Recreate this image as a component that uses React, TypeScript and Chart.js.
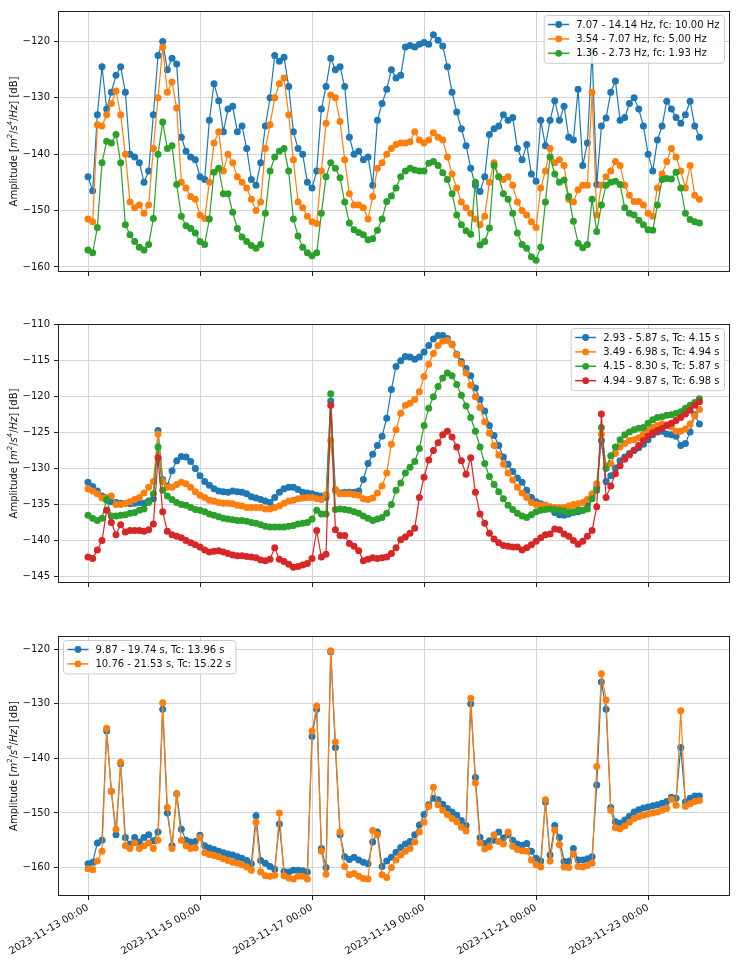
import React, { useEffect, useRef } from 'react';
import { Chart, registerables } from 'chart.js';

Chart.register(...registerables);

const FONT = '"DejaVu Sans", "Liberation Sans", sans-serif';

// one sample every 2 hours starting 2023-11-13 00:00 (x in hours since that moment)
const STEP_H = 2;
const X_MIN = -12.86;
const X_MAX = 275.1;
const X_TICK_HOURS = [0, 48, 96, 144, 192, 240];
const X_TICK_LABELS = [
  '2023-11-13 00:00',
  '2023-11-15 00:00',
  '2023-11-17 00:00',
  '2023-11-19 00:00',
  '2023-11-21 00:00',
  '2023-11-23 00:00',
];

const C_BLUE = '#1f77b4';
const C_ORANGE = '#ff7f0e';
const C_GREEN = '#2ca02c';
const C_RED = '#d62728';

// ---------- panel 1 (frequency bands) ----------
const TOP_LABELS = [
  '7.07 - 14.14 Hz, fc: 10.00 Hz',
  '3.54 - 7.07 Hz, fc: 5.00 Hz',
  '1.36 - 2.73 Hz, fc: 1.93 Hz',
];
const TOP_BLUE = [
  -144, -146.5, -133, -124.5, -132, -129, -126, -124.5, -129, -140,
  -140.5, -141.5, -145, -143, -133, -122.5, -120, -125, -123, -124,
  -137, -139.5, -140.5, -141, -144, -144.5, -134, -127.5, -130.5, -136,
  -132, -131.5, -136, -135, -139, -144.5, -145.5, -141.5, -135, -130,
  -122.5, -123.5, -122.8, -128, -136, -139, -140, -145, -146, -143,
  -132, -128, -123, -125, -124.5, -128, -137, -140, -139.5, -141,
  -140.5, -145.5, -134, -131, -128.5, -125, -126.5, -126, -121, -120.7,
  -121, -120.5, -120.2, -120.5, -118.8, -119.8, -120.8, -124.5, -129, -132.5,
  -135.5, -138.5, -142.5, -145.5, -146.6, -144, -136.5, -135.5, -135, -133,
  -134, -133.5, -139, -141, -138.3, -143.5, -144.8, -134, -138.5, -134,
  -130.5, -134, -131.5, -137, -137.5, -128.5, -142, -138, -121.7, -145.4,
  -135, -133.6, -129, -127, -134, -133.5, -131, -130, -132, -135,
  -140, -143, -137.5, -135, -130.6, -132, -133.5, -134.5, -133, -130.6,
  -135, -137,
];
const TOP_ORANGE = [
  -151.5, -152, -134.8, -135, -133, -131, -128.8, -133, -140, -148.5,
  -149.5, -149, -150.5, -149, -139, -130, -121, -129, -127.2, -131.8,
  -145, -146, -147.5, -148, -150.8, -151.4, -145, -138, -136, -143,
  -140, -141.5, -144, -145, -146, -148, -150, -148.5, -139, -134.8,
  -130, -127.5, -126.5, -133, -141, -148.5, -149.5, -151, -152, -152.3,
  -143, -134.5, -129.5, -130, -134.2, -141, -147, -149, -149, -149.5,
  -151.5, -147.5, -142.5, -141.5, -140, -139, -138.3, -138, -138, -137.8,
  -136, -137.5, -138, -137.5, -136.2, -137, -137.5, -140.5, -143.5, -146,
  -148.5, -149.5, -150.5, -151.5, -152.5, -151, -145, -141.5, -144, -144.5,
  -144, -145.5, -148.5, -150, -150.8, -152, -153, -146, -143, -139,
  -141.5, -141, -142, -148, -148.5, -146.3, -145.5, -145.5, -129, -150.8,
  -145.5, -144, -143, -141.3, -142, -145.5, -147.3, -148.4, -148.4, -149,
  -150.5, -151, -146, -143.5, -141.3, -139, -140.5, -143, -146, -142,
  -147.3, -148,
];
const TOP_GREEN = [
  -157, -157.5, -153, -141.5, -137.7, -138, -136.5, -141.5, -152.5, -154.3,
  -155.5, -156.5, -157, -156, -151.4, -140, -134.3, -139, -138.5, -145.4,
  -151, -152.7, -153.2, -154, -155.5, -156, -151.5, -143.2, -142.5, -147,
  -147, -150.3, -153.2, -154.7, -155.5, -156.2, -156.7, -156, -150.5, -143,
  -140.5, -139.5, -139, -143, -151.5, -154.5, -156.5, -157.5, -158, -157.5,
  -150.5, -144, -141.5, -142.5, -144.2, -148.5, -152.2, -153.4, -153.9, -154.3,
  -155.2, -155, -153.5, -151.5, -148.4, -147.4, -146, -144, -143, -142.5,
  -142.8, -143, -143, -141.6, -141.3, -142, -143.3, -144.5, -147, -150.8,
  -152.5, -153.6, -154.2, -145, -156.1, -155.5, -153.1, -142, -144, -147,
  -148, -150.5, -154, -156, -156.7, -158.2, -158.8, -156.5, -148.5, -140.5,
  -143.5, -145, -144.6, -147.5, -151.9, -155.8, -156.6, -156, -148, -153.7,
  -149, -145.5, -145, -144.8, -145.4, -149.5, -150.5, -150.8, -151.7, -152.5,
  -153.4, -153.5, -149, -144.5, -144.3, -144.4, -143.2, -146, -150.5, -151.6,
  -152, -152.2,
];

// ---------- panel 2 (period bands) ----------
const MID_LABELS = [
  '2.93 - 5.87 s, Tc: 4.15 s',
  '3.49 - 6.98 s, Tc: 4.94 s',
  '4.15 - 8.30 s, Tc: 5.87 s',
  '4.94 - 9.87 s, Tc: 6.98 s',
];
const MID_BLUE = [
  -131.9, -132.5, -133.1, -133.8, -134.4, -134.6, -134.7, -134.8, -134.8, -134.9,
  -134.8, -134.7, -134.8, -134.5, -134.2, -124.7, -131.5, -132.4, -130.3, -128.9,
  -128.3, -128.4, -129, -130, -131, -131.8, -132.3, -132.8, -133.1, -133.2,
  -133.3, -133.1, -133.2, -133.3, -133.5, -133.9, -134.1, -134.3, -134.5, -134.7,
  -134, -133.3, -132.8, -132.6, -132.6, -132.9, -133.3, -133.4, -133.5, -133.7,
  -133.8, -134, -120.6, -133, -133.4, -133.3, -133.3, -133.3, -133.1, -131.5,
  -129.3, -128, -126.8, -125.5, -123, -119, -115.8, -115, -114.4, -114.5,
  -114.8, -114.5, -113.8, -112.9, -112, -111.5, -111.5, -111.9, -112.7, -114.1,
  -115.1, -116.1, -117.1, -118.8, -120.4, -122, -124, -125.4, -126.8, -128.4,
  -129.4, -130.4, -131.3, -131.9, -133, -134, -134.6, -134.9, -135.1, -135.5,
  -136.1, -136.4, -136.5, -136.3, -136.1, -136, -135.8, -135, -133.8, -132.6,
  -126.1, -131.8, -131, -129.9, -128.9, -128.4, -127.9, -127.5, -127.1, -126.6,
  -126, -125.3, -124.9, -124.8, -125.2, -125.3, -125.5, -126.8, -126.5, -124.9,
  -122.5, -123.8,
];
const MID_ORANGE = [
  -132.8, -133.1, -133.5, -134.1, -134, -133.8, -135, -135, -134.8, -134.6,
  -134.3, -134, -133.4, -132.6, -131.8, -125.2, -131.8, -132.6, -132.6, -132.2,
  -131.9, -132.1, -132.6, -133.2, -133.7, -134, -134.4, -134.5, -134.7, -134.8,
  -134.8, -134.9, -135.1, -135.2, -135.4, -135.4, -135.4, -135.4, -135.6, -135.6,
  -135.4, -135.2, -134.8, -134.5, -134.4, -134.2, -134.1, -134, -134, -134.2,
  -134.3, -133.6, -126.1, -132.9, -133.5, -133.5, -133.5, -133.6, -133.7, -134.2,
  -134.3, -134.1, -133.4, -132.4, -130.6, -126.6, -124.6, -122.3, -121.2, -120.9,
  -120.4, -119.3, -117.2, -115.5, -114, -112.9, -112.3, -112.2, -112.8, -114.2,
  -115.4, -116.7, -118.4, -120, -121.5, -123.5, -125.1, -126.8, -128.1, -129.4,
  -130.6, -131.6, -132.6, -133.4, -134, -134.7, -135, -135.1, -135.1, -135.3,
  -135.4, -135.4, -135.4, -135.2, -135, -134.9, -134.7, -134.3, -133.5, -132.1,
  -125.2, -129.6, -129.3, -127.9, -127, -126.5, -126.1, -126, -125.7, -125.2,
  -124.7, -124.3, -124, -123.8, -123.9, -124.2, -124.8, -124.8, -124.5, -123.8,
  -122.7, -121.8,
];
const MID_GREEN = [
  -136.5, -136.9, -137.2, -136.9, -134.3, -136.6, -136.6, -136.5, -136.4, -136.2,
  -136.1, -135.8, -135.6, -134.7, -133.5, -127, -133, -133.8, -134.3, -134.7,
  -135, -135.1, -135.4, -135.7, -135.8, -136, -136.3, -136.5, -136.7, -136.9,
  -137, -137.1, -137.2, -137.2, -137.3, -137.5, -137.6, -137.8, -138, -138.1,
  -138.1, -138.1, -138.1, -138, -137.9, -137.7, -137.6, -137.5, -137, -135.8,
  -136.3, -136.3, -119.6, -135.7, -135.6, -135.7, -135.8, -136, -136.2, -136.6,
  -136.9, -137.2, -137, -136.8, -136.2, -135, -133, -132, -130.6, -129.8,
  -129, -127.2, -124, -121.6, -120, -118.6, -117.4, -116.7, -117.1, -118.3,
  -119.8, -121.3, -122.9, -124.8, -127, -129.3, -131.1, -132.2, -133.2, -134.2,
  -135.1, -135.7, -136.2, -136.6, -136.8, -136.4, -136, -135.8, -135.7, -135.6,
  -135.7, -135.8, -135.9, -136.1, -136, -135.8, -135.8, -135.6, -134.2, -133,
  -124.3, -130, -128.2, -127, -126, -125.3, -124.9, -124.6, -124.4, -124.3,
  -123.7, -123.2, -122.9, -122.8, -122.6, -122.5, -122.3, -122.1, -121.6, -121.2,
  -120.8, -120.3,
];
const MID_RED = [
  -142.3, -142.5, -141.3, -140, -135.8, -137.5, -139.2, -137.8, -138.8, -138.6,
  -138.6, -138.6, -138.7, -138.5, -137.7, -128.5, -136, -138.7, -139.2, -139.4,
  -139.6, -140, -140.3, -140.6, -140.9, -141.3, -141.6, -141.5, -141.4, -141.6,
  -141.8, -142, -142.1, -142.1, -142.2, -142.3, -142.4, -142.7, -142.8, -142.6,
  -141, -142.6, -142.9, -143.3, -143.7, -143.6, -143.4, -143.2, -142.5, -138.6,
  -142.3, -141.9, -121.2, -138.5, -139.3, -139.3, -140.4, -140.8, -141.4, -142.8,
  -142.6, -142.4, -142.5, -142.4, -142.3, -141.8, -141, -139.9, -139.5, -139,
  -138.3, -134, -131.2, -128.8, -127.5, -126.4, -125.3, -124.8, -125.6, -127,
  -128.9, -130.8, -128.5, -133.3, -136.3, -137.6, -139, -139.8, -140.3, -140.7,
  -140.8, -140.9, -140.9, -141.3, -141, -140.6, -140.1, -139.6, -139.2, -139.1,
  -138.4, -138.5, -139.1, -139.4, -140, -140.5, -140.1, -139.4, -138.6, -135.3,
  -122.4, -134, -132.4, -130.7, -129.6, -128.7, -128.1, -127.4, -126.8, -126.1,
  -125.5, -125, -124.7, -124.4, -124, -123.7, -123.3, -122.9, -122.4, -121.9,
  -121.2, -120.7,
];

// ---------- panel 3 (long periods) ----------
const BOT_LABELS = [
  '9.87 - 19.74 s, Tc: 13.96 s',
  '10.76 - 21.53 s, Tc: 15.22 s',
];
const BOT_BLUE = [
  -159.3, -159, -155.5, -155, -135, -146, -154, -141, -154.5, -155.7,
  -154.5, -155.3, -154.5, -154, -155.1, -153.5, -131, -150, -156, -146.5,
  -153, -155, -155.3, -155.2, -154.1, -156, -156.4, -156.7, -157, -157.3,
  -157.5, -157.7, -158, -158.3, -158.7, -159.3, -150.5, -158.7, -159.2, -159.8,
  -160.3, -152, -160.7, -160.8, -160.5, -160.5, -160.6, -160.8, -136, -131,
  -156.5, -160, -120.5, -138, -154, -158, -158.5, -158.1, -158.6, -159,
  -159.3, -155.3, -153.5, -159.8, -158.8, -158.1, -157.2, -156.3, -155.7, -155.2,
  -154, -152.2, -150.3, -148.5, -147.3, -147.6, -148.4, -149.2, -149.8, -150.4,
  -151.4, -152.3, -130, -143.5, -154.5, -155.6, -155.1, -155, -153.5, -154.6,
  -154, -155, -155.7, -155.9, -155.6, -157, -158.3, -158.8, -148, -157.7,
  -152.3, -154.5, -158.9, -158.9, -156.5, -158.6, -158.6, -158.4, -158, -144.9,
  -126, -131, -149, -151.6, -151.9, -151.3, -150.6, -149.8, -149.4, -149.1,
  -148.9, -148.7, -148.5, -148.2, -147.9, -147.1, -147.3, -138, -148, -147.3,
  -146.9, -146.9,
];
const BOT_ORANGE = [
  -160.2, -160.4, -158.8, -157, -134.5, -146, -153, -140.7, -156, -156.5,
  -155.5, -156.5, -156, -155.5, -156.5, -155, -129.8, -149, -156.5, -146.5,
  -155, -156, -156.5, -156.4, -154.5, -157.3, -157.6, -157.8, -158, -158.4,
  -158.7, -159, -159.2, -159.5, -159.9, -160.5, -151.7, -160.8, -161.5, -161.6,
  -161.4, -150, -161.5, -161.9, -162.1, -161.6, -161.6, -162.1, -135, -130.4,
  -157, -161.2, -120.3, -137, -153.5, -159.8, -161.3, -161.1, -161.6, -162,
  -162.1, -153.2, -154, -161.3, -161.8, -160, -158.6, -157.7, -157, -156.5,
  -155.3, -153.5, -151.7, -148.8, -145.3, -148.5, -149.5, -150.3, -151, -151.6,
  -152.6, -153.3, -129, -144.5, -155.5, -156.6, -156.2, -154, -155.2, -155.7,
  -153.5, -156.1, -156.7, -156.9, -157, -158.6, -159.5, -159.9, -147.6, -158.8,
  -153.1, -155.8, -159.9, -160, -157.5, -159.8, -159.9, -159.6, -159.2, -141.5,
  -124.5, -129.3, -149.5, -152.7, -152.9, -152.4, -151.7, -151, -150.7, -150.4,
  -150.2, -150, -149.8, -149.5, -149.2, -147.5, -148.6, -131.3, -148.8, -148.3,
  -147.9, -147.7,
];

const TOP_Y_TICKS = [-160, -150, -140, -130, -120];
const MID_Y_TICKS = [-145, -140, -135, -130, -125, -120, -115, -110];
const BOT_Y_TICKS = [-160, -150, -140, -130, -120];

const Y_TITLE_PARTS = [
  { t: 'Amplitude [', style: 'n' },
  { t: 'm', style: 'i' },
  { t: '2', style: 's' },
  { t: '/', style: 'n' },
  { t: 's', style: 'i' },
  { t: '4', style: 's' },
  { t: '/', style: 'n' },
  { t: 'Hz', style: 'i' },
  { t: '] [dB]', style: 'n' },
];

type Series = { label: string; color: string; values: number[] };
type PanelSpec = {
  top: number;
  height: number;
  padTop: number;
  xAxisH: number;
  yMin: number;
  yMax: number;
  yTicks: number[];
  showXLabels: boolean;
  legendSide: 'left' | 'right';
  series: Series[];
};

const PANELS: PanelSpec[] = [
  {
    top: 0, height: 300, padTop: 11, xAxisH: 28, yMin: -160.9, yMax: -114.6,
    yTicks: TOP_Y_TICKS, showXLabels: false, legendSide: 'right',
    series: [
      { label: TOP_LABELS[0], color: C_BLUE, values: TOP_BLUE },
      { label: TOP_LABELS[1], color: C_ORANGE, values: TOP_ORANGE },
      { label: TOP_LABELS[2], color: C_GREEN, values: TOP_GREEN },
    ],
  },
  {
    top: 300, height: 310, padTop: 24, xAxisH: 27, yMin: -145.9, yMax: -109.9,
    yTicks: MID_Y_TICKS, showXLabels: false, legendSide: 'right',
    series: [
      { label: MID_LABELS[0], color: C_BLUE, values: MID_BLUE },
      { label: MID_LABELS[1], color: C_ORANGE, values: MID_ORANGE },
      { label: MID_LABELS[2], color: C_GREEN, values: MID_GREEN },
      { label: MID_LABELS[3], color: C_RED, values: MID_RED },
    ],
  },
  {
    top: 610, height: 355, padTop: 26, xAxisH: 69, yMin: -165.2, yMax: -117.6,
    yTicks: BOT_Y_TICKS, showXLabels: true, legendSide: 'left',
    series: [
      { label: BOT_LABELS[0], color: C_BLUE, values: BOT_BLUE },
      { label: BOT_LABELS[1], color: C_ORANGE, values: BOT_ORANGE },
    ],
  },
];

function fontFor(style: string) {
  if (style === 'i') return `italic 10px ${FONT}`;
  if (style === 's') return `7px ${FONT}`;
  return `10px ${FONT}`;
}

function makePlugins(spec: PanelSpec) {
  const frame = {
    id: 'mplFrame',
    afterDraw(chart: any) {
      const { ctx, chartArea: a } = chart;
      ctx.save();
      ctx.strokeStyle = '#222';
      ctx.lineWidth = 1;
      ctx.strokeRect(Math.round(a.left) + 0.5, Math.round(a.top) + 0.5,
        Math.round(a.right - a.left) - 1, Math.round(a.bottom - a.top) - 1);
      ctx.restore();
    },
  };
  const legend = {
    id: 'mplLegend',
    afterDraw(chart: any) {
      const { ctx, chartArea: a } = chart;
      ctx.save();
      ctx.font = `10px ${FONT}`;
      const tw = Math.max(...spec.series.map((s) => ctx.measureText(s.label).width));
      const w = tw + 37;
      const step = 14.4;
      const h = 9 + (spec.series.length - 1) * step + 10;
      const x0 = spec.legendSide === 'right' ? a.right - 5.5 - w : a.left + 5.5;
      const y0 = a.top + 4.5;
      ctx.beginPath();
      ctx.roundRect(x0, y0, w, h, 3);
      ctx.fillStyle = 'rgba(255,255,255,0.8)';
      ctx.fill();
      ctx.strokeStyle = '#cccccc';
      ctx.lineWidth = 1;
      ctx.stroke();
      spec.series.forEach((s, k) => {
        const cy = y0 + 9 + k * step;
        ctx.strokeStyle = s.color;
        ctx.lineWidth = 1.5;
        ctx.beginPath();
        ctx.moveTo(x0 + 4, cy);
        ctx.lineTo(x0 + 25, cy);
        ctx.stroke();
        ctx.fillStyle = s.color;
        ctx.beginPath();
        ctx.arc(x0 + 14.5, cy, 3.4, 0, Math.PI * 2);
        ctx.fill();
        ctx.fillStyle = '#111';
        ctx.textAlign = 'left';
        ctx.textBaseline = 'middle';
        ctx.fillText(s.label, x0 + 32, cy + 0.5);
      });
      ctx.restore();
    },
  };
  const ylabel = {
    id: 'mplYLabel',
    afterDraw(chart: any) {
      const { ctx, chartArea: a } = chart;
      ctx.save();
      let total = 0;
      const widths = Y_TITLE_PARTS.map((p) => {
        ctx.font = fontFor(p.style);
        const wd = ctx.measureText(p.t).width;
        total += wd;
        return wd;
      });
      ctx.translate(14, (a.top + a.bottom) / 2);
      ctx.rotate(-Math.PI / 2);
      ctx.fillStyle = '#111';
      ctx.textBaseline = 'middle';
      ctx.textAlign = 'left';
      let x = -total / 2;
      Y_TITLE_PARTS.forEach((p, k) => {
        ctx.font = fontFor(p.style);
        ctx.fillText(p.t, x, p.style === 's' ? -3.5 : 0.5);
        x += widths[k];
      });
      ctx.restore();
    },
  };
  return [frame, legend, ylabel];
}

function buildConfig(spec: PanelSpec): any {
  const n = spec.series.length;
  return {
    type: 'line',
    data: {
      datasets: spec.series.map((s, k) => ({
        label: s.label,
        data: s.values.map((v, i) => ({ x: i * STEP_H, y: v })),
        borderColor: s.color,
        backgroundColor: s.color,
        pointBackgroundColor: s.color,
        pointBorderWidth: 0,
        pointRadius: 3.5,
        borderWidth: 1.2,
        tension: 0,
        order: n - k,
      })),
    },
    options: {
      responsive: false,
      animation: false,
      devicePixelRatio: 1,
      layout: { padding: { top: spec.padTop, right: 12, left: 0, bottom: 0 } },
      plugins: { legend: { display: false }, tooltip: { enabled: false }, title: { display: false } },
      scales: {
        x: {
          type: 'linear',
          min: X_MIN,
          max: X_MAX,
          afterBuildTicks: (s: any) => {
            s.ticks = X_TICK_HOURS.map((v) => ({ value: v }));
          },
          afterFit: (s: any) => {
            s.height = spec.xAxisH;
            s.paddingLeft = 0;
            s.paddingRight = 0;
          },
          border: { display: false },
          grid: { color: '#d4d4d4', lineWidth: 1, tickColor: '#222', tickLength: 4, drawTicks: true },
          ticks: {
            display: spec.showXLabels,
            autoSkip: false,
            minRotation: 30,
            maxRotation: 30,
            padding: 2,
            color: '#111',
            font: { family: FONT, size: 10 },
            callback: (_v: any, idx: number) => X_TICK_LABELS[idx],
          },
        },
        y: {
          type: 'linear',
          min: spec.yMin,
          max: spec.yMax,
          afterBuildTicks: (s: any) => {
            s.ticks = spec.yTicks.map((v) => ({ value: v }));
          },
          afterFit: (s: any) => {
            s.width = 58;
            s.paddingTop = 0;
            s.paddingBottom = 0;
          },
          border: { display: false },
          grid: { color: '#d4d4d4', lineWidth: 1, tickColor: '#222', tickLength: 4, drawTicks: true },
          ticks: {
            padding: 4,
            color: '#111',
            font: { family: FONT, size: 10 },
            callback: (v: any) => (v < 0 ? '\u2212' + Math.abs(v) : String(v)),
          },
        },
      },
    },
    plugins: makePlugins(spec),
  };
}

function Panel({ spec }: { spec: PanelSpec }) {
  const ref = useRef<HTMLCanvasElement | null>(null);
  useEffect(() => {
    if (!ref.current) return;
    const chart = new Chart(ref.current, buildConfig(spec));
    return () => chart.destroy();
  }, [spec]);
  return (
    <canvas
      ref={ref}
      width={742}
      height={spec.height}
      style={{ position: 'absolute', left: 0, top: spec.top, width: 742, height: spec.height }}
    />
  );
}

export default function App() {
  return (
    <div style={{ position: 'absolute', left: 0, top: 0, width: 742, height: 965, background: '#fff' }}>
      {PANELS.map((p, i) => (
        <Panel key={i} spec={p} />
      ))}
    </div>
  );
}
